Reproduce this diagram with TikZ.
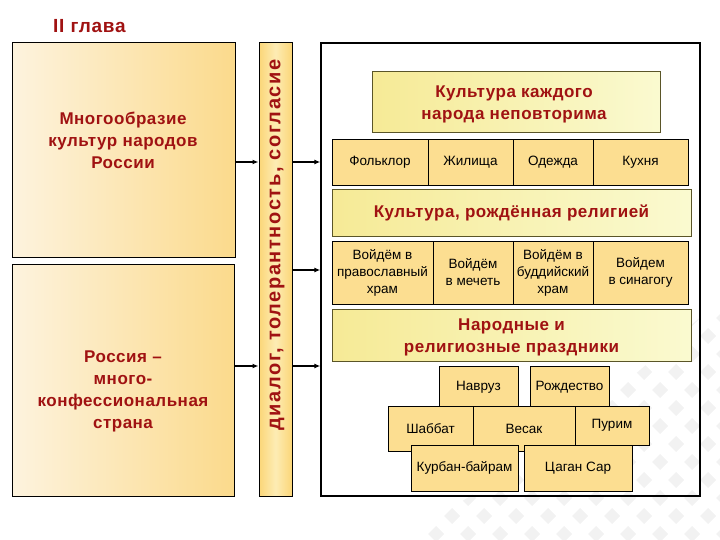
\documentclass[tikz,border=0pt]{standalone}
\usepackage{fontspec}
\setmainfont{Liberation Sans}
\usetikzlibrary{arrows.meta}
\definecolor{tred}{RGB}{160,18,18}
\definecolor{lboxA}{RGB}{253,243,222}
\definecolor{lboxB}{RGB}{251,218,140}
\definecolor{barA}{RGB}{251,214,120}
\definecolor{barB}{RGB}{253,236,180}
\definecolor{headA}{RGB}{246,234,150}
\definecolor{headB}{RGB}{250,250,208}
\definecolor{headline}{RGB}{90,85,40}
\definecolor{cellfill}{RGB}{252,222,145}
\definecolor{orn}{RGB}{242,242,242}
\begin{document}
\begin{tikzpicture}[x=1pt,y=-1pt,
  lbox/.style={draw=black,line width=1pt,left color=lboxA,right color=lboxB,minimum width=#1,inner sep=0pt},
  redtext/.style={text=tred,font=\fontsize{17}{22}\selectfont\bfseries\addfontfeatures{LetterSpace=3},align=center,inner sep=0pt},
  headbox/.style={draw=headline,line width=1pt,left color=headA,right color=headB,inner sep=0pt},
  cellbox/.style={draw=black,line width=0.9pt,fill=cellfill,inner sep=0pt,font=\fontsize{13.5}{17}\selectfont,align=center},
  arr/.style={line width=1.3pt,-{Latex[length=6pt,width=5pt]}}
]
\useasboundingbox (0,0) rectangle (720,540);
% background ornament
\begin{scope}
\clip (720,300) -- (720,540) -- (400,540) -- (560,440) -- cycle;
\foreach \i in {0,...,9}{
  \foreach \j in {0,...,13}{
    \fill[orn] ({420+\i*32+mod(\j,2)*16},{300+\j*18}) ++(0,-8) -- ++(8,8) -- ++(-8,8) -- ++(-8,-8) -- cycle;
  }
}
\end{scope}
% title
\node[text=tred,font=\fontsize{19}{22}\selectfont\bfseries\addfontfeatures{LetterSpace=4},anchor=west,inner sep=0pt] (title) at (53,26) {II глава};
% left boxes
\node[lbox=223pt,minimum height=214pt] (b1) at (123.5,150) {};
\node[redtext] (t1) at (123,140) {Многообразие\\культур народов\\России};
\node[lbox=222pt,minimum height=232pt] (b2) at (123,380) {};
\node[redtext] (t2) at (123,391) {Россия –\\много-\\конфессиональная\\страна};
% vertical bar
\node[draw=black,line width=1pt,left color=barA,right color=barA,middle color=barB,minimum width=33pt,minimum height=453pt,inner sep=0pt] (bar) at (275.5,269.5) {};
\node[text=tred,font=\fontsize{20}{22}\selectfont\bfseries\addfontfeatures{LetterSpace=8},rotate=90,inner sep=0pt] (bartext) at (277,245) {диалог, толерантность, согласие};
% outer right box
\node[draw=black,line width=1.3pt,minimum width=379pt,minimum height=453pt,inner sep=0pt] (outer) at (510.5,269.5) {};
% arrows
\coordinate (ya) at (0,162);
\coordinate (yb) at (0,270);
\coordinate (yc) at (0,366);
\draw[arr] (b1.east |- ya) -- (bar.west |- ya);
\draw[arr] (b2.east |- yc) -- (bar.west |- yc);
\draw[arr] (bar.east |- ya) -- (outer.west |- ya);
\draw[arr] (bar.east |- yb) -- (outer.west |- yb);
\draw[arr] (bar.east |- yc) -- (outer.west |- yc);
% header 1
\node[headbox,minimum width=288pt,minimum height=61pt] (h1) at (516,102.5) {};
\node[redtext] (h1t) at (514,104) {Культура каждого\\народа неповторима};
% row 1
\node[cellbox,minimum width=96pt,minimum height=46pt] (c11) at (380,162) {Фольклор};
\node[cellbox,minimum width=85pt,minimum height=46pt] (c12) at (470.5,162) {Жилища};
\node[cellbox,minimum width=80pt,minimum height=46pt] (c13) at (553,162) {Одежда};
\node[cellbox,minimum width=95pt,minimum height=46pt] (c14) at (640.5,162) {Кухня};
% header 2
\node[headbox,minimum width=359pt,minimum height=46pt] (h2) at (511.5,213) {};
\node[redtext] (h2t) at (511.5,213) {Культура, рождённая религией};
% row 2
\node[cellbox,minimum width=101pt,minimum height=63pt] (c21) at (382.5,273) {Войдём в\\православный\\храм};
\node[cellbox,minimum width=80pt,minimum height=63pt] (c22) at (473,272.5) {Войдём\\в мечеть};
\node[cellbox,minimum width=80pt,minimum height=63pt] (c23) at (553,273) {Войдём в\\буддийский\\храм};
\node[cellbox,minimum width=95pt,minimum height=63pt] (c24) at (640.5,272.5) {Войдем\\в синагогу};
% header 3
\node[headbox,minimum width=359pt,minimum height=52pt] (h3) at (511.5,335) {};
\node[redtext] (h3t) at (511.5,337) {Народные и\\религиозные праздники};
% holidays
\node[cellbox,minimum width=79pt,minimum height=42pt] (nav) at (478.5,387) {Навруз};
\node[cellbox,minimum width=79pt,minimum height=42pt] (roz) at (569.5,387) {Рождество};
\node[cellbox,minimum width=85pt,minimum height=45pt] (sha) at (430.5,428.5) {Шаббат};
\node[cellbox,minimum width=102pt,minimum height=45pt] (ves) at (524,428.5) {Весак};
\node[cellbox,minimum width=74pt,minimum height=39pt] (pur) at (612,425.5) {Пурим};
\node[cellbox,minimum width=107pt,minimum height=46pt] (kur) at (464.5,468) {Курбан-байрам};
\node[cellbox,minimum width=108pt,minimum height=46pt] (cag) at (578,468) {Цаган Сар};
\end{tikzpicture}
\end{document}
